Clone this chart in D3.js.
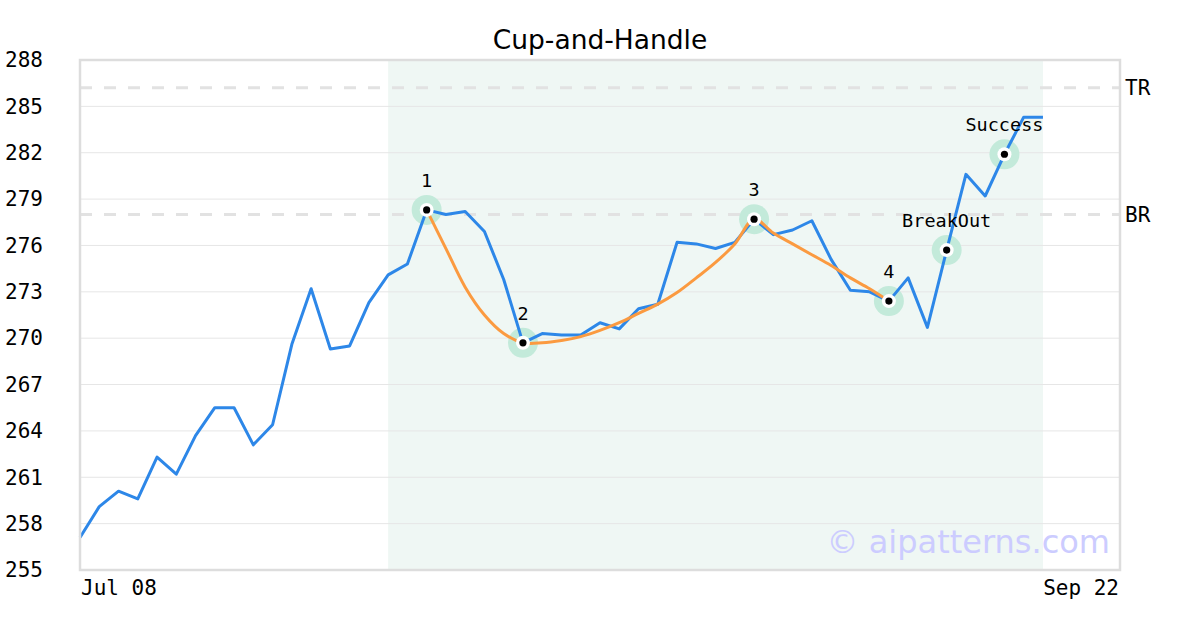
<!DOCTYPE html>
<html><head><meta charset="utf-8">
<script src="https://cdn.jsdelivr.net/npm/d3@7/dist/d3.min.js"></script>
<style>html,body{margin:0;padding:0;background:#fff;}</style>
</head><body>
<svg id="chart" width="1200" height="630"></svg>
<script>
const title = "Cup-and-Handle";
const xTickLabels = ["Jul 08", "Sep 22"];
const yTicks = [255,258,261,264,267,270,273,276,279,282,285,288];
const prices = [257.1,259.1,260.1,259.6,262.3,261.2,263.7,265.5,265.5,263.1,264.4,269.6,273.2,269.3,269.5,272.3,274.1,274.8,278.3,278.0,278.2,276.9,273.8,269.7,270.3,270.2,270.2,271.0,270.6,271.9,272.2,276.2,276.1,275.8,276.2,277.7,276.7,277.0,277.6,275.1,273.1,273.0,272.4,273.9,270.7,275.7,280.6,279.2,281.9,284.3,284.3];
const cupIdx = [18,19,20,21,22,23,24,25,26,27,28,29,30,31,32,33,34,35,36,37,38,39,40,41,42];
const cupVals = [278.3,275.8,273.3,271.5,270.3,269.7,269.7,269.85,270.1,270.5,271.0,271.6,272.2,272.95,273.9,274.9,276.1,277.7,276.8,276.1,275.4,274.7,273.9,273.2,272.4];
const markerIdx = [18,23,35,42,45,48];
const markerLabels = ["1","2","3","4","BreakOut","Success"];
const levelNames = ["TR","BR"];
const levelValues = [286.2,278.0];
const bandRange = [16,50];
const xDomainMax = 54;
const watermark = "© aipatterns.com";

const svg = d3.select("#chart");
const L=80,R=1120,T=60,B=570;
const x = d3.scaleLinear().domain([0,xDomainMax]).range([L,R]);
const y = d3.scaleLinear().domain([255,288]).range([B,T]);
const mono = "'DejaVu Sans Mono', monospace";
const sans = "'DejaVu Sans', sans-serif";

// band
svg.append("rect").attr("x",x(bandRange[0])).attr("y",T)
  .attr("width",x(bandRange[1])-x(bandRange[0])).attr("height",B-T)
  .attr("fill","#eff7f4");

// gridlines
svg.append("g").selectAll("line").data(yTicks).join("line")
  .attr("x1",L).attr("x2",R).attr("y1",d=>y(d)).attr("y2",d=>y(d))
  .attr("stroke","#e6e6e6").attr("stroke-width",1);

// level lines
svg.append("g").selectAll("line").data(levelValues).join("line")
  .attr("x1",L).attr("x2",R).attr("y1",d=>y(d)).attr("y2",d=>y(d))
  .attr("stroke","#e2e2e2").attr("stroke-width",3).attr("stroke-dasharray","12,12");
svg.append("g").selectAll("text").data(levelValues).join("text")
  .attr("x",R+5).attr("y",d=>y(d)).attr("dy","0.35em")
  .attr("font-family",mono).attr("font-size",21).attr("fill","#000")
  .text((d,i)=>levelNames[i]);

// y axis labels
const yAxis = d3.axisLeft(y).tickValues(yTicks).tickSize(0).tickPadding(0);
const yg = svg.append("g").attr("transform",`translate(5,0)`).call(yAxis);
yg.select(".domain").remove();
yg.selectAll("text").attr("text-anchor","start").attr("x",0)
  .attr("font-family",mono).attr("font-size",21).attr("fill","#000");

// x axis labels
svg.append("text").attr("x",L+1).attr("y",595).attr("font-family",mono).attr("font-size",21)
  .attr("fill","#000").text(xTickLabels[0]);
svg.append("text").attr("x",R-1).attr("y",595).attr("text-anchor","end").attr("font-family",mono).attr("font-size",21)
  .attr("fill","#000").text(xTickLabels[1]);

// marker halos
svg.append("g").selectAll("circle").data(markerIdx).join("circle")
  .attr("cx",d=>x(d)).attr("cy",d=>y(prices[d])).attr("r",15).attr("fill","#c3eada");

// price line
svg.append("path").datum(prices)
  .attr("d",d3.line().x((d,i)=>x(i)).y(d=>y(d)))
  .attr("fill","none").attr("stroke","#2d87e8").attr("stroke-width",3).attr("stroke-linejoin","round");

// cup line
svg.append("path").datum(cupIdx.map((d,i)=>[d,cupVals[i]]))
  .attr("d",d3.line().x(d=>x(d[0])).y(d=>y(d[1])).curve(d3.curveCatmullRom.alpha(0.5)))
  .attr("fill","none").attr("stroke","#fb9a40").attr("stroke-width",3);

// markers
svg.append("g").selectAll("circle").data(markerIdx).join("circle")
  .attr("cx",d=>x(d)).attr("cy",d=>y(prices[d])).attr("r",7).attr("fill","#fff");
svg.append("g").selectAll("circle").data(markerIdx).join("circle")
  .attr("cx",d=>x(d)).attr("cy",d=>y(prices[d])).attr("r",3.6).attr("fill","#000");
svg.append("g").selectAll("text").data(markerIdx).join("text")
  .attr("x",d=>x(d)).attr("y",d=>y(prices[d])-23).attr("text-anchor","middle")
  .attr("font-family",mono).attr("font-size",18.5).attr("fill","#000")
  .text((d,i)=>markerLabels[i]);

// frame
svg.append("rect").attr("x",L).attr("y",T).attr("width",R-L).attr("height",B-T)
  .attr("fill","none").attr("stroke","#dddddd").attr("stroke-width",2.5);

// title
svg.append("text").attr("x",(L+R)/2).attr("y",49).attr("text-anchor","middle")
  .attr("font-family",sans).attr("font-size",26.5).attr("fill","#000").text(title);

// watermark
svg.append("text").attr("x",1110).attr("y",553).attr("text-anchor","end")
  .attr("font-family",sans).attr("font-size",32).attr("fill","#ccccff").text(watermark);
</script>
</body></html>
